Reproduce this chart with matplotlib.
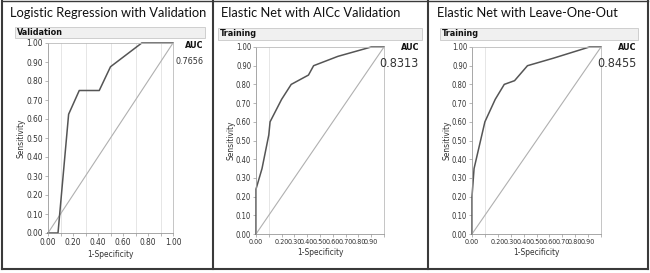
import matplotlib
matplotlib.use("Agg")
import matplotlib.pyplot as plt
from matplotlib.patches import Rectangle
from matplotlib.lines import Line2D
from matplotlib import font_manager

# ROC curve points
lr_fpr = [0.0, 0.08, 0.165, 0.25, 0.41, 0.50, 0.75, 1.0]
lr_tpr = [0.0, 0.0, 0.625, 0.75, 0.75, 0.875, 1.0, 1.0]

aicc_fpr = [0.0, 0.0, 0.047, 0.10, 0.11, 0.20, 0.275, 0.41, 0.45, 0.64, 0.90, 1.0]
aicc_tpr = [0.0, 0.24, 0.35, 0.53, 0.60, 0.72, 0.80, 0.85, 0.90, 0.95, 1.0, 1.0]

loo_fpr = [0.0, 0.0, 0.016, 0.10, 0.18, 0.25, 0.33, 0.43, 0.63, 0.91, 1.0]
loo_tpr = [0.0, 0.20, 0.35, 0.60, 0.72, 0.80, 0.82, 0.90, 0.94, 1.0, 1.0]

titles = ["Logistic Regression with Validation",
          "Elastic Net with AICc Validation",
          "Elastic Net with Leave-One-Out"]
headers = ["Validation", "Training", "Training"]
auc_values = ["0.7656", "0.8313", "0.8455"]

W, H = 650, 273
fig = plt.figure(figsize=(W / 100, H / 100), dpi=100)
fig.patch.set_facecolor("white")

# narrow font for the JMP-style labels, if a condensed face is around
names = {f.name for f in font_manager.fontManager.ttflist}
if "Liberation Sans Narrow" in names:
    small = font_manager.FontProperties(family="Liberation Sans Narrow")
else:
    small = font_manager.FontProperties(family="DejaVu Sans", stretch="condensed")
title_font = ["Lato", "DejaVu Sans"]


def fx(x):
    return x / W


def fy(y):
    return 1 - y / H


def sp(size, weight="normal"):
    f = small.copy()
    f.set_size(size)
    f.set_weight(weight)
    return f


# panel geometry in pixels: axes box, title x, header bar, auc position
panels = [
    dict(box=(48, 43, 173, 233), tx=10, bar=(15, 27, 205, 38), auc=(203, 45), aucv=(203, 61),
         vsize=6.5, ylab=21, xticks=[0, 0.2, 0.4, 0.6, 0.8, 1.0]),
    dict(box=(256, 47, 384, 234), tx=221, bar=(218, 28, 422, 40), auc=(419, 47), aucv=(419, 63),
         vsize=9, ylab=231, xticks=[0, 0.2, 0.3, 0.4, 0.5, 0.6, 0.7, 0.8, 0.9]),
    dict(box=(472, 47, 601, 234), tx=437, bar=(440, 28, 638, 40), auc=(636, 47), aucv=(636, 63),
         vsize=9, ylab=447, xticks=[0, 0.2, 0.3, 0.4, 0.5, 0.6, 0.7, 0.8, 0.9]),
]
curves = [(lr_fpr, lr_tpr), (aicc_fpr, aicc_tpr), (loo_fpr, loo_tpr)]

for i, p in enumerate(panels):
    l, t, r, b = p["box"]
    ax = fig.add_axes([fx(l), fy(b), fx(r - l), (b - t) / H])
    ax.set_xlim(0, 1)
    ax.set_ylim(0, 1)
    ax.set_xticks([k / 10 for k in range(11)], minor=True)
    ax.set_yticks([k / 10 for k in range(11)], minor=True)
    ax.grid(True, which="minor", color="#e2e2e2", lw=0.6)
    ax.set_xticks(p["xticks"])
    ax.set_xticklabels(["%.2f" % v for v in p["xticks"]], fontproperties=sp(5.2 if i else 6))
    ax.set_yticks([k / 10 for k in range(11)])
    ax.set_yticklabels(["%.2f" % (k / 10) for k in range(11)], fontproperties=sp(6 if i == 0 else 5.5))
    ax.tick_params(which="both", length=2, width=0.5, color="#999999", pad=1.5, labelcolor="#333333")
    for s in ax.spines.values():
        s.set_color("#bbbbbb")
        s.set_linewidth(0.6)
    ax.spines["left"].set_color("#999999")
    ax.spines["bottom"].set_color("#999999")

    ax.plot([0, 1], [0, 1], color="#b0b0b0", lw=0.8)
    xs, ys = curves[i]
    ax.plot(xs, ys, color="#555555", lw=1.1, clip_on=False)

    ax.set_xlabel("1-Specificity", fontproperties=sp(6), labelpad=2, color="#333333")
    fig.text(fx(p["ylab"]), fy((t + b) / 2), "Sensitivity", rotation=90, fontproperties=sp(6),
             ha="center", va="center", color="#333333")

    # title and header bar
    fig.text(fx(p["tx"]), fy(13), titles[i], family=title_font, fontsize=9.3,
             ha="left", va="center", color="#111111")
    bl, bt, br, bb = p["bar"]
    fig.add_artist(Rectangle((fx(bl), fy(bb)), fx(br - bl), (bb - bt) / H,
                             transform=fig.transFigure, facecolor="#f0f0f0",
                             edgecolor="#c8c8c8", lw=0.6))
    fig.text(fx(bl + 2), fy((bt + bb) / 2), headers[i], fontproperties=sp(6.5, "bold"),
             ha="left", va="center", color="#111111")

    # AUC
    ax_, ay_ = p["auc"]
    fig.text(fx(ax_), fy(ay_), "AUC", fontproperties=sp(6.5, "bold"),
             ha="right", va="center", color="#111111")
    vx, vy = p["aucv"]
    fig.text(fx(vx), fy(vy), auc_values[i], fontproperties=sp(p["vsize"]),
             ha="right", va="center", color="#333333")

# outer frame and separators
frame = dict(transform=fig.transFigure, color="#3a3a3a", lw=1.5)
fig.add_artist(Line2D([fx(2), fx(2)], [fy(1), fy(269)], **frame))
fig.add_artist(Line2D([fx(648), fx(648)], [fy(1), fy(269)], **frame))
fig.add_artist(Line2D([fx(2), fx(648)], [fy(269), fy(269)], **frame))
fig.add_artist(Line2D([fx(2), fx(648)], [fy(1), fy(1)], transform=fig.transFigure,
                      color="#3a3a3a", lw=1.0))
fig.add_artist(Line2D([fx(213), fx(213)], [fy(1), fy(269)], **frame))
fig.add_artist(Line2D([fx(428), fx(428)], [fy(1), fy(269)], **frame))

fig.savefig("out.png", dpi=100)
